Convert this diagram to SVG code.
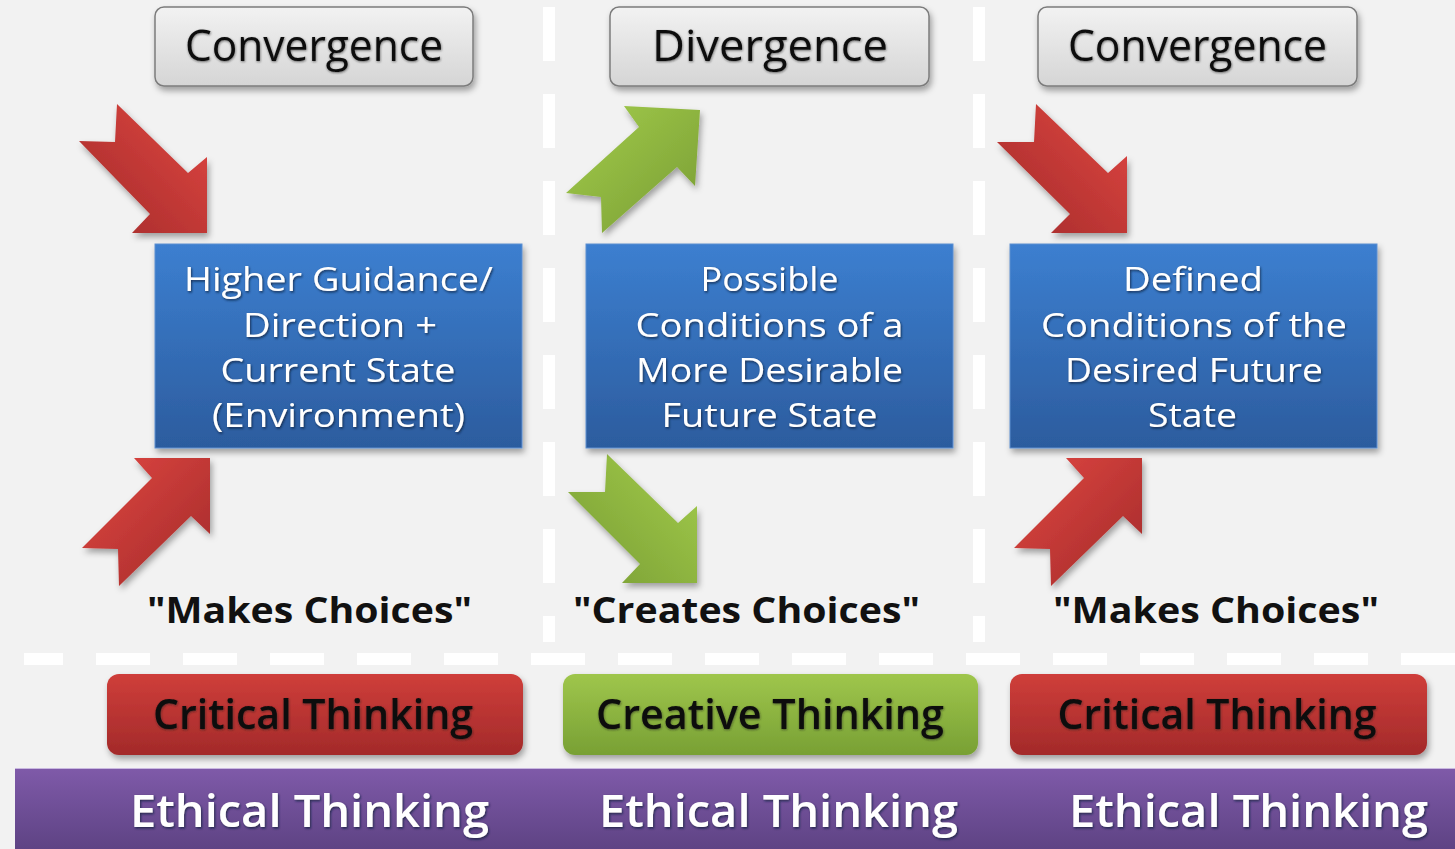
<svg xmlns="http://www.w3.org/2000/svg" width="1455" height="849" viewBox="0 0 1455 849">
<defs>
<linearGradient id="gGray" x1="0" y1="0" x2="0" y2="1"><stop offset="0" stop-color="#f2f2f2"/><stop offset="1" stop-color="#d5d5d5"/></linearGradient>
<linearGradient id="gBlue" x1="0" y1="0" x2="0" y2="1"><stop offset="0" stop-color="#3c7fd0"/><stop offset="1" stop-color="#2c5c9e"/></linearGradient>
<linearGradient id="gRedBox" x1="0" y1="0" x2="0" y2="1"><stop offset="0" stop-color="#cf3e3a"/><stop offset="1" stop-color="#a32a2a"/></linearGradient>
<linearGradient id="gGreenBox" x1="0" y1="0" x2="0" y2="1"><stop offset="0" stop-color="#9fc64c"/><stop offset="1" stop-color="#78a034"/></linearGradient>
<linearGradient id="gPurple" x1="0" y1="0" x2="0" y2="1"><stop offset="0" stop-color="#7f5aa9"/><stop offset="1" stop-color="#5e4384"/></linearGradient>
<linearGradient id="gRedDR" x1="1" y1="0" x2="0" y2="1"><stop offset="0.2" stop-color="#d4413d"/><stop offset="1" stop-color="#a22a2a"/></linearGradient>
<linearGradient id="gRedUR" x1="0" y1="0" x2="1" y2="1"><stop offset="0.2" stop-color="#d4413d"/><stop offset="1" stop-color="#a22a2a"/></linearGradient>
<linearGradient id="gGreenDR" x1="1" y1="0" x2="0" y2="1"><stop offset="0.1" stop-color="#9fc84a"/><stop offset="1" stop-color="#789c33"/></linearGradient>
<linearGradient id="gGreenUR" x1="0" y1="0" x2="1" y2="1"><stop offset="0.1" stop-color="#9fc84a"/><stop offset="1" stop-color="#789c33"/></linearGradient>
<filter id="shadow" x="-10%" y="-10%" width="125%" height="130%"><feDropShadow dx="2" dy="4" stdDeviation="3" flood-color="#000" flood-opacity="0.35"/></filter>
<filter id="tshadow" x="-5%" y="-20%" width="110%" height="140%"><feDropShadow dx="1" dy="1.5" stdDeviation="1" flood-color="#10203a" flood-opacity="0.8"/></filter>
<filter id="kshadow" x="-5%" y="-20%" width="110%" height="140%"><feDropShadow dx="0.5" dy="1" stdDeviation="0.8" flood-color="#1a1a1a" flood-opacity="0.6"/></filter>
</defs>
<style>
.top{fill:url(#gGray);stroke:#7c7c7c;stroke-width:1.5}
.blue{fill:url(#gBlue);stroke:#5d8fd0;stroke-width:1}
.ttl{font-family:"Open Sans","Noto Sans","DejaVu Sans",sans-serif;font-size:43px;font-weight:500;fill:#111;text-anchor:middle}
.bt{font-family:"Open Sans","Noto Sans","DejaVu Sans",sans-serif;font-size:32px;font-weight:500;fill:#fff;text-anchor:middle}
.q{font-family:"Open Sans","Noto Sans","DejaVu Sans",sans-serif;font-size:35px;font-weight:bold;fill:#111;text-anchor:middle}
.tk{font-family:"Open Sans","Noto Sans","DejaVu Sans",sans-serif;font-size:42px;font-weight:600;fill:#0a0a0a;text-anchor:middle}
.eth{font-family:"Open Sans","Noto Sans","DejaVu Sans",sans-serif;font-size:45px;font-weight:600;fill:#fff;text-anchor:middle}
.dash{stroke:#fff;stroke-width:12;fill:none;stroke-dasharray:54 33}
</style>
<rect x="0" y="0" width="1455" height="849" fill="#f2f2f2"/>

<g id="dividers">
<line class="dash" x1="549" y1="7" x2="549" y2="642"/>
<line class="dash" x1="979" y1="7" x2="979" y2="642"/>
<line class="dash" x1="24" y1="659" x2="1455" y2="659" style="stroke-dashoffset:15"/>
</g>

<g id="top-convergence-1" filter="url(#shadow)">
<rect class="top" x="155" y="7" width="318" height="79" rx="9"/>
<text class="ttl" x="314" y="61" textLength="258" lengthAdjust="spacingAndGlyphs" filter="url(#kshadow)">Convergence</text>
</g>
<g id="top-divergence" filter="url(#shadow)">
<rect class="top" x="610" y="7" width="319" height="79" rx="9"/>
<text class="ttl" x="770" y="61" textLength="236" lengthAdjust="spacingAndGlyphs" filter="url(#kshadow)">Divergence</text>
</g>
<g id="top-convergence-2" filter="url(#shadow)">
<rect class="top" x="1038" y="7" width="319" height="79" rx="9"/>
<text class="ttl" x="1197.5" y="61" textLength="259" lengthAdjust="spacingAndGlyphs" filter="url(#kshadow)">Convergence</text>
</g>

<g id="connectors" filter="url(#shadow)">
<polygon fill="url(#gRedDR)" points="207,233 132,233 150,214 79,141 115,142 117,104 188,173 207,157"/>
<polygon fill="url(#gRedUR)" points="210,458 134,458 152,478 82,548 118,549 119,586 191,516 210,534"/>
<polygon fill="url(#gGreenUR)" points="700,110 624,106 639,127 566,193 601,197 602,233 677,167 695,186"/>
<polygon fill="url(#gGreenDR)" points="697,583 622,583 640,564 568,492 605,492 607,454 678,523 697,506"/>
<polygon fill="url(#gRedDR)" points="1127,233 1051,233 1070,214 997,142 1034,142 1036,104 1108,173 1127,156"/>
<polygon fill="url(#gRedUR)" points="1142,458 1066,458 1084,478 1014,548 1050,549 1051,586 1123,516 1142,534"/>
</g>

<g id="box-current-state">
<rect class="blue" x="155" y="244" width="367" height="204" filter="url(#shadow)"/>
<g filter="url(#tshadow)">
<text class="bt" x="338.5" y="291" textLength="309" lengthAdjust="spacingAndGlyphs">Higher Guidance/</text>
<text class="bt" x="340" y="337" textLength="194" lengthAdjust="spacingAndGlyphs">Direction +</text>
<text class="bt" x="338" y="382" textLength="235" lengthAdjust="spacingAndGlyphs">Current State</text>
<text class="bt" x="338.5" y="427" textLength="253" lengthAdjust="spacingAndGlyphs">(Environment)</text>
</g>
</g>
<g id="box-possible-conditions">
<rect class="blue" x="586" y="244" width="367" height="204" filter="url(#shadow)"/>
<g filter="url(#tshadow)">
<text class="bt" x="769.5" y="291" textLength="138" lengthAdjust="spacingAndGlyphs">Possible</text>
<text class="bt" x="769.5" y="337" textLength="268" lengthAdjust="spacingAndGlyphs">Conditions of a</text>
<text class="bt" x="769.5" y="382" textLength="267" lengthAdjust="spacingAndGlyphs">More Desirable</text>
<text class="bt" x="769.5" y="427" textLength="216" lengthAdjust="spacingAndGlyphs">Future State</text>
</g>
</g>
<g id="box-defined-conditions">
<rect class="blue" x="1010" y="244" width="367" height="204" filter="url(#shadow)"/>
<g filter="url(#tshadow)">
<text class="bt" x="1193" y="291" textLength="140" lengthAdjust="spacingAndGlyphs">Defined</text>
<text class="bt" x="1194" y="337" textLength="306" lengthAdjust="spacingAndGlyphs">Conditions of the</text>
<text class="bt" x="1194" y="382" textLength="258" lengthAdjust="spacingAndGlyphs">Desired Future</text>
<text class="bt" x="1192.5" y="427" textLength="89" lengthAdjust="spacingAndGlyphs">State</text>
</g>
</g>

<g id="label-makes-choices-1"><text class="q" x="309.5" y="623" textLength="325" lengthAdjust="spacingAndGlyphs">"Makes Choices"</text></g>
<g id="label-creates-choices"><text class="q" x="746.5" y="623" textLength="347" lengthAdjust="spacingAndGlyphs">"Creates Choices"</text></g>
<g id="label-makes-choices-2"><text class="q" x="1216" y="623" textLength="326" lengthAdjust="spacingAndGlyphs">"Makes Choices"</text></g>

<g id="critical-thinking-1">
<rect x="107" y="674" width="416" height="81" rx="12" fill="url(#gRedBox)" filter="url(#shadow)"/>
<text class="tk" x="313" y="729" textLength="320" lengthAdjust="spacingAndGlyphs" filter="url(#kshadow)">Critical Thinking</text>
</g>
<g id="creative-thinking">
<rect x="563" y="674" width="415" height="81" rx="12" fill="url(#gGreenBox)" filter="url(#shadow)"/>
<text class="tk" x="770" y="729" textLength="348" lengthAdjust="spacingAndGlyphs" filter="url(#kshadow)">Creative Thinking</text>
</g>
<g id="critical-thinking-2">
<rect x="1010" y="674" width="417" height="81" rx="12" fill="url(#gRedBox)" filter="url(#shadow)"/>
<text class="tk" x="1217" y="729" textLength="319" lengthAdjust="spacingAndGlyphs" filter="url(#kshadow)">Critical Thinking</text>
</g>

<g id="ethical-thinking">
<rect x="15" y="768" width="1440" height="81" fill="url(#gPurple)"/>
<line x1="15" y1="768.5" x2="1455" y2="768.5" stroke="#c9b8e0" stroke-width="1"/>
<g filter="url(#tshadow)">
<text class="eth" x="309.5" y="827" textLength="359" lengthAdjust="spacingAndGlyphs">Ethical Thinking</text>
<text class="eth" x="778.5" y="827" textLength="359" lengthAdjust="spacingAndGlyphs">Ethical Thinking</text>
<text class="eth" x="1248.5" y="827" textLength="359" lengthAdjust="spacingAndGlyphs">Ethical Thinking</text>
</g>
</g>
</svg>
